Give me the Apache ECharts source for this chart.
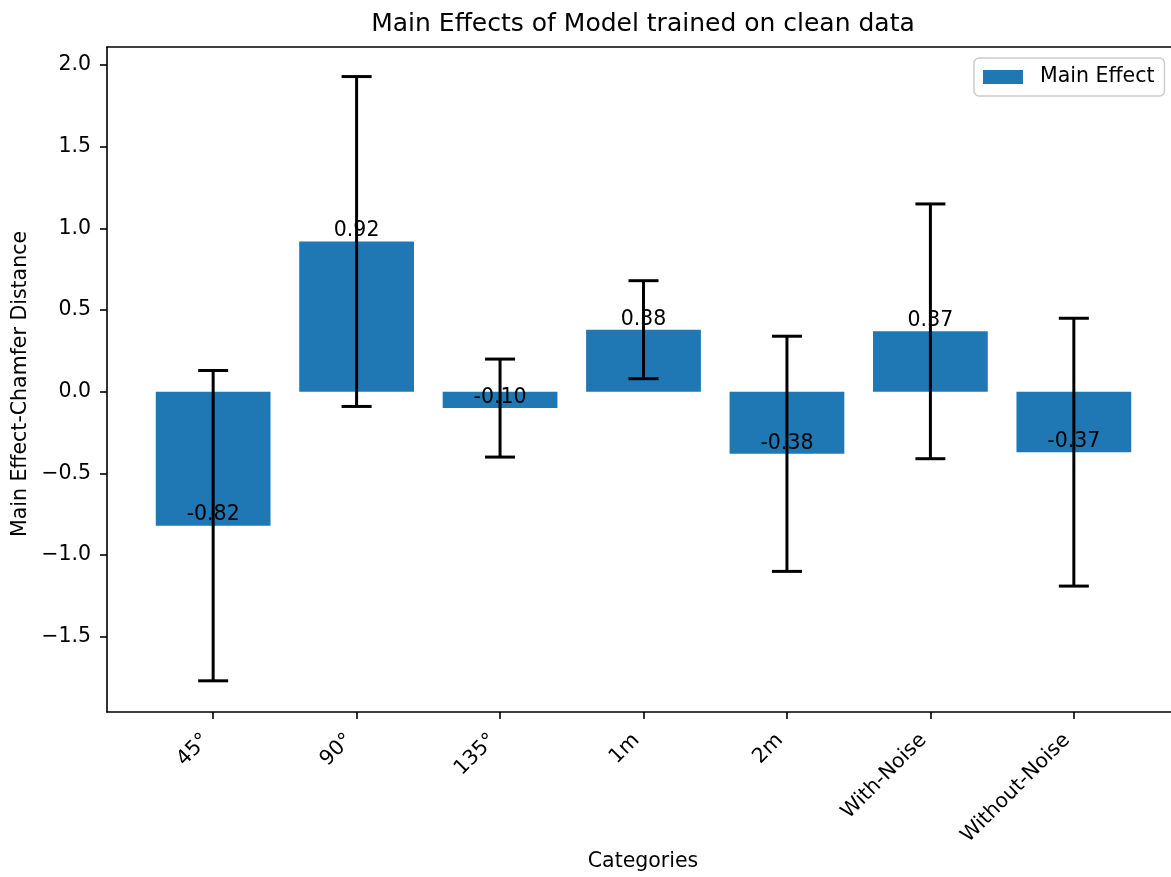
<!DOCTYPE html>
<html>
<head>
<meta charset="utf-8">
<script src="https://cdn.jsdelivr.net/npm/echarts@6/dist/echarts.min.js"></script>
<style>
  html, body { margin: 0; padding: 0; background: #fff; overflow: hidden; }
  #chart { width: 1171px; height: 877px; }
</style>
</head>
<body>
<div id="chart"></div>
<script>
// Factor levels and their main effects (with symmetric error bars)
const categories = ['45°', '90°', '135°', '1m', '2m', 'With-Noise', 'Without-Noise'];
const mainEffect = [-0.82, 0.92, -0.10, 0.38, -0.38, 0.37, -0.37];
const errorHalf = [0.95, 1.01, 0.30, 0.30, 0.72, 0.78, 0.82];
const yTicks = [-1.5, -1.0, -0.5, 0.0, 0.5, 1.0, 1.5, 2.0];

const FONT = 'DejaVu Sans';
const BLUE = '#1f77b4';
const SPINE = { color: '#000', width: 1.6 };

// Axis limits (matplotlib-style margins around the bars and error bars)
const xMin = -0.74, xMax = 6.74;
const yMin = -1.961, yMax = 2.111;

// Plot frame in pixels; the right edge of the axes runs past the canvas
const gridLeft = 107, gridTop = 47, gridWidth = 1073, gridHeight = 665;
const unitPx = gridWidth / (xMax - xMin);

const xIdx = categories.map((_, i) => i);
const barData = mainEffect.map((v, i) => [i, v]);
const errData = mainEffect.map((v, i) => [i, v, errorHalf[i]]);

const chart = echarts.init(document.getElementById('chart'), null, { renderer: 'canvas' });

chart.setOption({
  animation: false,
  backgroundColor: '#ffffff',
  textStyle: { fontFamily: FONT },
  grid: {
    left: gridLeft, top: gridTop, width: gridWidth, height: gridHeight,
    containLabel: false,
    outerBoundsMode: 'none',
    show: false
  },
  graphic: [
    {
      type: 'text', x: 643, y: 24,
      style: {
        text: 'Main Effects of Model trained on clean data',
        fontFamily: FONT, fontSize: 25, fill: '#000',
        align: 'center', verticalAlign: 'middle'
      }
    },
    {
      type: 'text', x: 643, y: 862,
      style: {
        text: 'Categories', fontFamily: FONT, fontSize: 20.5, fill: '#000',
        align: 'center', verticalAlign: 'middle'
      }
    },
    {
      type: 'text', x: 21, y: 384, rotation: Math.PI / 2,
      style: {
        text: 'Main Effect-Chamfer Distance', fontFamily: FONT, fontSize: 20.5, fill: '#000',
        align: 'center', verticalAlign: 'middle'
      }
    }
  ],
  legend: {
    data: ['Main Effect'],
    left: 974, top: 58,
    orient: 'horizontal',
    icon: 'rect',
    itemWidth: 40, itemHeight: 14,
    padding: [8, 10, 8, 9],
    backgroundColor: 'rgba(255,255,255,0.8)',
    borderColor: '#cccccc', borderWidth: 1.5, borderRadius: 5,
    textStyle: { fontFamily: FONT, fontSize: 20.5, color: '#000', lineHeight: 22, padding: [0, 0, 0, 12] },
    selectedMode: false
  },
  xAxis: [
    {
      type: 'value', min: xMin, max: xMax, position: 'bottom',
      splitLine: { show: false },
      axisLine: { show: true, onZero: false, lineStyle: SPINE },
      axisTick: {
        show: true, length: 7, lineStyle: SPINE,
        customValues: xIdx
      },
      axisLabel: {
        customValues: xIdx,
        rotate: 45, margin: 18,
        padding: [0, 10, 0, 0],
        fontFamily: FONT, fontSize: 20.5, color: '#000',
        formatter: v => categories[Math.round(v)]
      }
    },
    {
      // top spine only
      type: 'value', min: xMin, max: xMax, position: 'top',
      splitLine: { show: false },
      axisLine: { show: true, onZero: false, lineStyle: SPINE },
      axisTick: { show: false },
      axisLabel: { show: false }
    }
  ],
  yAxis: {
    type: 'value', min: yMin, max: yMax,
    splitLine: { show: false },
    axisLine: { show: true, onZero: false, lineStyle: SPINE },
    axisTick: {
      show: true, length: 7, lineStyle: SPINE,
      customValues: yTicks
    },
    axisLabel: {
      customValues: yTicks,
      margin: 16,
      fontFamily: FONT, fontSize: 20.5, color: '#000',
      formatter: v => v.toFixed(1).replace('-', '\u2212')
    }
  },
  series: [
    {
      name: 'Main Effect',
      type: 'bar',
      data: barData,
      barWidth: 0.8 * unitPx,
      itemStyle: { color: BLUE },
      z: 2
    },
    {
      name: 'errors',
      type: 'custom',
      data: errData,
      z: 3,
      renderItem: function (params, api) {
        const x = api.value(0), v = api.value(1), e = api.value(2);
        const top = api.coord([x, v + e]);
        const bot = api.coord([x, v - e]);
        const at = api.coord([x, v]);
        const cap = 15;
        const ls = { stroke: '#000', lineWidth: 3 };
        return {
          type: 'group',
          children: [
            { type: 'line', shape: { x1: top[0], y1: top[1], x2: bot[0], y2: bot[1] }, style: ls },
            { type: 'line', shape: { x1: top[0] - cap, y1: top[1], x2: top[0] + cap, y2: top[1] }, style: ls },
            { type: 'line', shape: { x1: bot[0] - cap, y1: bot[1], x2: bot[0] + cap, y2: bot[1] }, style: ls },
            {
              type: 'text', x: at[0], y: at[1],
              style: {
                text: v.toFixed(2), fontFamily: FONT, fontSize: 20.5, fill: '#000',
                align: 'center', verticalAlign: 'bottom'
              }
            }
          ]
        };
      }
    }
  ]
});
</script>
</body>
</html>
